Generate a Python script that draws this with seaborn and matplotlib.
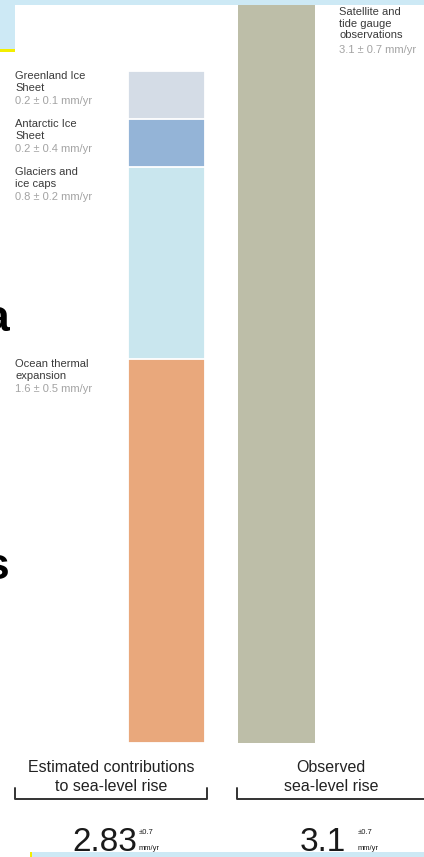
import matplotlib
matplotlib.use("Agg")
import numpy as np
import matplotlib.pyplot as plt
import matplotlib.transforms as mtransforms
from matplotlib.patches import Rectangle
from matplotlib.lines import Line2D
import seaborn as sns

# ---- data (mm/yr) ----
groups = ["Estimated", "Observed"]
components = ["Ocean thermal\nexpansion", "Glaciers and\nice caps",
              "Antarctic Ice\nSheet", "Greenland Ice\nSheet"]
rates = [1.6, 0.8, 0.2, 0.2]
errors = [0.5, 0.2, 0.4, 0.1]
seg_colors = ["#e9a87c", "#c9e6ee", "#94b4d7", "#d4dce6"]
observed_label = "Satellite and\ntide gauge\nobservations"
observed_rate = 3.1
observed_error = 0.7
estimated_total = 2.83
estimated_error = 0.7
group_titles = ["Estimated contributions\nto sea-level rise", "Observed\nsea-level rise"]

W, H = 424, 857
sns.set_theme(style="white")
plt.rcParams["font.family"] = ["Liberation Sans", "DejaVu Sans"]

fig = plt.figure(figsize=(W / 100, H / 100), dpi=100)
ax = fig.add_axes([0, 0, 1, 1])

# pixel coords measured from the top-left corner
px = mtransforms.Affine2D().scale(1 / W, -1 / H).translate(0, 1) + fig.transFigure

# -----------------------------
# stacked bar (layered cumulative) + observed bar
# -----------------------------
cum = np.cumsum(rates)
for i in reversed(range(len(rates))):
    sns.barplot(x=[groups[0]], y=[cum[i]], order=groups, color=seg_colors[i],
                saturation=1, width=0.7, edgecolor="white", linewidth=1.3,
                errorbar=None, ax=ax)
sns.barplot(x=[groups[1]], y=[observed_rate], order=groups, color="#bdbea8",
            saturation=1, width=0.7, linewidth=0, errorbar=None, ax=ax)

ax.set_xlim(-166 / 110, (W - 166) / 110)
ax.set_ylim(-(H - 743) / 240, 743 / 240)
ax.axis("off")

# -----------------------------
# segment labels
# -----------------------------
lab_tr = mtransforms.blended_transform_factory(ax.transAxes, ax.transData)
dark, grey = "#3a3a3a", "#a3a3a3"
for i in range(len(rates)):
    ax.annotate(components[i], xy=(15 / W, cum[i]), xycoords=lab_tr,
                xytext=(0, 0), textcoords="offset pixels", va="top", ha="left",
                fontsize=8, color=dark, linespacing=1.22)
    ax.annotate(f"{rates[i]} \u00b1 {errors[i]} mm/yr", xy=(15 / W, cum[i]),
                xycoords=lab_tr, xytext=(0, -25), textcoords="offset pixels",
                va="top", ha="left", fontsize=8, color=grey)

ax.annotate(observed_label, xy=(339 / W, observed_rate), xycoords=lab_tr,
            xytext=(0, -8), textcoords="offset pixels", va="top", ha="left",
            fontsize=8, color=dark, linespacing=1.2)
ax.annotate(f"{observed_rate} \u00b1 {observed_error} mm/yr", xy=(339 / W, observed_rate),
            xycoords=lab_tr, xytext=(0, -46), textcoords="offset pixels",
            va="top", ha="left", fontsize=8, color=grey)

# -----------------------------
# titles, brackets, totals
# -----------------------------
fig.text(111, 777, group_titles[0], transform=px, ha="center", va="center",
         fontsize=11.5, color="#222222", linespacing=1.38)
fig.text(331, 777, group_titles[1], transform=px, ha="center", va="center",
         fontsize=11.5, color="#222222", linespacing=1.38)

bracket_kw = dict(transform=px, color="#333333", lw=1.4)
fig.add_artist(Line2D([15, 15, 207, 207], [788, 799, 799, 788], **bracket_kw))
fig.add_artist(Line2D([237, 237, 430], [788, 799, 799], **bracket_kw))

fig.text(72, 851, f"{estimated_total}", transform=px, ha="left", va="baseline",
         fontsize=24, color="#1a1a1a")
fig.text(139, 834, f"\u00b1{estimated_error}", transform=px, ha="left",
         va="baseline", fontsize=5.5, color="#1a1a1a")
fig.text(139, 850, "mm/yr", transform=px, ha="left", va="baseline",
         fontsize=5.5, color="#1a1a1a")
fig.text(300, 851, f"{observed_rate}", transform=px, ha="left", va="baseline",
         fontsize=24, color="#1a1a1a")
fig.text(358, 834, f"\u00b1{observed_error}", transform=px, ha="left",
         va="baseline", fontsize=5.5, color="#1a1a1a")
fig.text(358, 850, "mm/yr", transform=px, ha="left", va="baseline",
         fontsize=5.5, color="#1a1a1a")

# -----------------------------
# slide remnants around the crop
# -----------------------------
band = "#cde9f5"
for r in [Rectangle((0, 0), W, 5, color=band),
          Rectangle((0, 0), 15, 49, color=band),
          Rectangle((0, 49), 15, 3, color="#f3ee00"),
          Rectangle((30, 852), W - 30, 6, color=band),
          Rectangle((30, 852), 1.5, 6, color="#f3ee00")]:
    r.set_transform(px)
    r.set_linewidth(0)
    fig.add_artist(r)

# big slide letters that the crop cuts through (cut off in the reference too)
fig.text(9, 331, "a", transform=px, ha="right", va="baseline",
         fontsize=32, fontweight="bold", color="black")
fig.text(9, 579, "s", transform=px, ha="right", va="baseline",
         fontsize=32, fontweight="bold", color="black")

fig.savefig("out.png", dpi=100, facecolor="white")
